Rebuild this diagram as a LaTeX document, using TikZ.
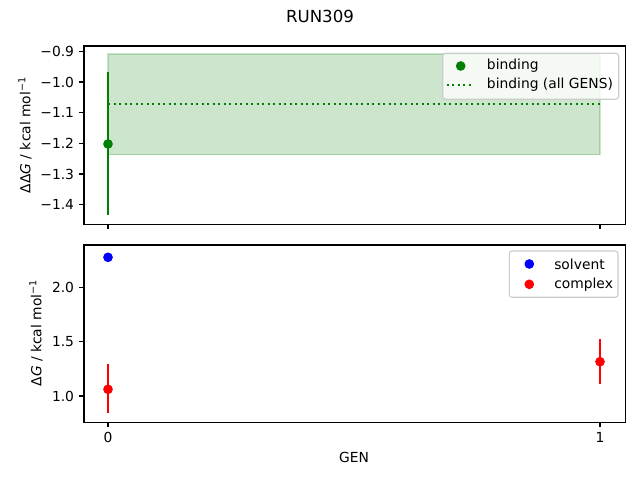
\documentclass[tikz,border=0pt]{standalone}
\usepackage{fontspec}
\setmainfont{DejaVu Sans}
\definecolor{mgreen}{HTML}{008000}
\definecolor{mblue}{HTML}{0000FF}
\definecolor{mred}{HTML}{FF0000}
\definecolor{legedge}{gray}{0.8}
\tikzset{
  spine/.style={draw=black, line width=0.8pt},
  tickmark/.style={draw=black, line width=0.8pt},
  ticklab/.style={font=\fontsize{10}{12}\selectfont, inner sep=0pt},
  ticklaby/.style={ticklab, anchor=east},
  ticklabx/.style={ticklab, anchor=north},
  axlab/.style={font=\fontsize{10}{12}\selectfont, inner sep=0pt},
  errbar/.style={line width=1.5pt},
  dot/.style={circle, inner sep=0pt, minimum size=7pt},
  legbox/.style={draw=legedge, fill=white, fill opacity=0.8, line width=0.8pt, rounded corners=2pt},
  legtext/.style={font=\fontsize{10}{12}\selectfont, inner sep=0pt, anchor=west},
}
\begin{document}
\begin{tikzpicture}[x=0.01in, y=-0.01in]
\useasboundingbox (0,0) rectangle (640,480);
\fill[white] (0,0) rectangle (640,480);
% title
\node[font=\fontsize{12}{14}\selectfont, inner sep=0pt] (title) at (320,16) {RUN309};

% ===== top axes =====
\fill[mgreen, fill opacity=0.2] (108,54) rectangle (600,154.7);
\draw[mgreen, draw opacity=0.2, line width=1pt] (108,54) rectangle (600,154.7);
\coordinate (dl0) at (108,104);
\coordinate (dl1) at (600,104);
\draw[mgreen, line width=1.5pt, dash pattern=on 1.5pt off 2.475pt] (dl0) -- (dl1);
\coordinate (gtop) at (108,72.3);
\coordinate (gbot) at (108,215.3);
\draw[mgreen, errbar] (gtop) -- (gbot);
\node[dot, fill=mgreen] (gpt) at (108,144) {};
\draw[spine] (84,46) rectangle (625.3,224.3);
% y ticks
\foreach \v/\yy in {−0.9/51.3, −1.0/82.0, −1.1/112.7, −1.2/143.3, −1.3/174.0, −1.4/204.7}{
  \draw[tickmark] (84,\yy) -- (79.1,\yy);
  \node[ticklaby] at (74.3,\yy) {\v};
}
% x ticks (no labels)
\draw[tickmark] (108,224.3) -- (108,229.2);
\draw[tickmark] (600,224.3) -- (600,229.2);
\node[axlab, rotate=90] (ylabtop) at (25,135) {ΔΔ{\itshape G} / kcal mol\textsuperscript{−1}};
% legend top
\draw[legbox] (442.7,53.3) rectangle (618.7,99.3);
\node[dot, fill=mgreen] (lg1) at (460.7,66) {};
\node[legtext] (lt1) at (486.7,66) {binding};
\coordinate (ld0) at (446.7,84.7);
\coordinate (ld1) at (470.7,84.7);
\draw[mgreen, line width=1.5pt, dash pattern=on 1.5pt off 2.475pt] (ld0) -- (ld1);
\node[legtext] (lt2) at (486.7,84.7) {binding (all GENS)};

% ===== bottom axes =====
\node[dot, fill=mblue] (bpt) at (108,257.3) {};
\coordinate (r0t) at (108,364);
\coordinate (r0b) at (108,413.3);
\draw[mred, errbar] (r0t) -- (r0b);
\node[dot, fill=mred] (rpt0) at (108,389.3) {};
\coordinate (r1t) at (600,339);
\coordinate (r1b) at (600,383.7);
\draw[mred, errbar] (r1t) -- (r1b);
\node[dot, fill=mred] (rpt1) at (600,361.7) {};
\draw[spine] (84,245) rectangle (625.3,422.3);
\foreach \v/\yy in {2.0/287.3, 1.5/341.65, 1.0/396.0}{
  \draw[tickmark] (84,\yy) -- (79.1,\yy);
  \node[ticklaby] at (74.3,\yy) {\v};
}
\draw[tickmark] (108,422.3) -- (108,427.2);
\draw[tickmark] (600,422.3) -- (600,427.2);
\node[ticklabx] (xl0) at (108,432) {0};
\node[ticklabx] (xl1) at (600,432) {1};
\node[axlab] (xlab) at (354,457.3) {GEN};
\node[axlab, rotate=90] (ylabbot) at (36,333) {Δ{\itshape G} / kcal mol\textsuperscript{−1}};
% legend bottom
\draw[legbox] (509.3,251) rectangle (618,297.3);
\node[dot, fill=mblue] (lb1) at (529.3,264) {};
\node[legtext] (lbt1) at (554,264) {solvent};
\node[dot, fill=mred] (lb2) at (529.3,284.3) {};
\node[legtext] (lbt2) at (554,284.3) {complex};
\end{tikzpicture}
\end{document}
